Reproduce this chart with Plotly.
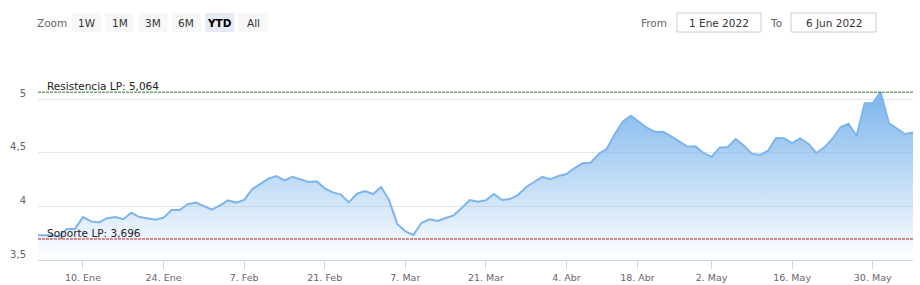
import pandas as pd
import plotly.graph_objects as go

# ---------------- data ----------------
holidays = ["2022-04-15", "2022-04-18"]
dec = [3.73]
jan = [3.73, 3.73, 3.72, 3.79, 3.79, 3.90, 3.86, 3.85, 3.89, 3.90,
       3.88, 3.94, 3.90, 3.885, 3.875, 3.895, 3.965, 3.965, 4.02, 4.035, 4.00]
feb = [3.97, 4.01, 4.055, 4.035, 4.06, 4.16, 4.205, 4.258, 4.283, 4.242,
       4.276, 4.252, 4.227, 4.233, 4.168, 4.130, 4.109, 4.037, 4.118, 4.143]
mar = [4.115, 4.180, 4.056, 3.835, 3.767, 3.733, 3.845, 3.879, 3.863, 3.891,
       3.916, 3.984, 4.059, 4.042, 4.056, 4.115, 4.059, 4.068, 4.106, 4.180,
       4.224, 4.276, 4.252]
apr = [4.283, 4.301, 4.357, 4.401, 4.407, 4.488, 4.537, 4.674, 4.792, 4.845,
       4.786, 4.730, 4.693, 4.696, 4.652, 4.606, 4.556, 4.559, 4.497]
may = [4.460, 4.547, 4.553, 4.627, 4.568, 4.491, 4.478, 4.516, 4.637, 4.634,
       4.590, 4.634, 4.584, 4.497, 4.550, 4.630, 4.736, 4.770, 4.658, 4.960,
       4.963, 5.064]
jun = [4.776, 4.727, 4.674, 4.689]

values = dec + jan + feb + mar + apr + may + jun
dates = pd.bdate_range("2021-12-31", "2022-06-06", freq="C", holidays=holidays)

resistencia = 5.064
soporte = 3.696

# 18 Abr is a market holiday: its tick sits where an ordinal axis interpolates it
tick_dates = ["2022-01-10", "2022-01-24", "2022-02-07", "2022-02-21", "2022-03-07",
              "2022-03-21", "2022-04-04", "2022-04-14 19:12", "2022-05-02", "2022-05-16",
              "2022-05-30"]
tick_text = ["10. Ene", "24. Ene", "7. Feb", "21. Feb", "7. Mar", "21. Mar",
             "4. Abr", "18. Abr", "2. May", "16. May", "30. May"]
y_ticks = [3.5, 4, 4.5, 5]

zoom_buttons = ["1W", "1M", "3M", "6M", "YTD", "All"]
selected_button = "YTD"
from_text = "1 Ene 2022"
to_text = "6 Jun 2022"

# ---------------- layout geometry ----------------
W, H = 920, 285
ML, MR, MT, MB = 38, 7, 50, 25
PW, PH = W - ML - MR, H - MT - MB
FONT = "DejaVu Sans"


def px(x):
    return (x - ML) / PW


def py(y):
    return (H - MB - y) / PH


fig = go.Figure()

fig.add_trace(go.Scatter(
    x=dates, y=values, mode="lines",
    line=dict(color="#7cb5ec", width=2),
    fill="tozeroy",
    fillgradient=dict(type="vertical", start=3.5, stop=resistencia,
                      colorscale=[[0, "rgba(124,181,236,0.0)"],
                                  [1, "rgba(124,181,236,1.0)"]]),
    hoverinfo="skip", showlegend=False,
))

shapes = []
annotations = []


def text(x, y, s, color="#333333", xanchor="center", size=10.5):
    annotations.append(dict(xref="paper", yref="paper", x=px(x), y=py(y), text=s,
                            xanchor=xanchor, yanchor="middle", showarrow=False,
                            font=dict(family=FONT, size=size, color=color)))


# plot lines (support / resistance)
for val, col, label in [(resistencia, "#2a7d2a", "Resistencia LP: 5,064"),
                        (soporte, "#c41e1e", "Soporte LP: 3,696")]:
    shapes.append(dict(type="line", xref="paper", yref="y", x0=0, x1=1, y0=val, y1=val,
                       line=dict(color=col, width=1, dash="3px,1px"), layer="above"))
    annotations.append(dict(xref="paper", yref="y", x=px(46), y=val, text=label,
                            xanchor="left", yanchor="bottom", showarrow=False,
                            font=dict(family=FONT, size=10.5, color="#222222"),
                            borderpad=0, yshift=-1))

# range selector drawn as boxes + text
text(52, 23, "Zoom", color="#666666")
bx = 72.0
for lab in zoom_buttons:
    sel = lab == selected_button
    shapes.append(dict(type="rect", xref="paper", yref="paper",
                       x0=px(bx), x1=px(bx + 29), y0=py(32), y1=py(13),
                       fillcolor="#e6ebf5" if sel else "#f7f7f7", line=dict(width=0),
                       layer="above"))
    text(bx + 14.5, 22.5, "<b>%s</b>" % lab if sel else lab,
         color="#000000" if sel else "#333333")
    bx += 33.3

# From / To inputs
text(669, 22.5, "From", color="#666666", xanchor="right")
text(784, 22.5, "To", color="#666666", xanchor="right")
for x0, x1, txt in [(677, 761, from_text), (791, 876, to_text)]:
    shapes.append(dict(type="rect", xref="paper", yref="paper",
                       x0=px(x0), x1=px(x1), y0=py(32), y1=py(13),
                       fillcolor="#ffffff", line=dict(color="#cccccc", width=1),
                       layer="above"))
    text((x0 + x1) / 2, 22.5, txt)

fig.update_layout(
    width=W, height=H,
    margin=dict(l=ML, r=MR, t=MT, b=MB, pad=0, autoexpand=False),
    paper_bgcolor="white", plot_bgcolor="white",
    separators=",.",
    font=dict(family=FONT, size=10, color="#666666"),
    showlegend=False,
    shapes=shapes, annotations=annotations,
    xaxis=dict(
        type="date",
        range=["2021-12-31 10:00", "2022-06-06"],
        rangebreaks=[dict(bounds=["sat", "mon"]), dict(values=holidays)],
        tickvals=tick_dates, ticktext=tick_text,
        ticks="outside", ticklen=8, tickcolor="#ccd6eb", tickwidth=1,
        showline=True, linecolor="#ccd6eb", linewidth=1,
        showgrid=False, zeroline=False,
        tickfont=dict(family=FONT, size=9.5, color="#666666"),
        ticklabelstandoff=1,
        automargin=False,
        fixedrange=True,
    ),
    yaxis=dict(
        range=[3.5, 5.457],
        tickvals=y_ticks,
        showgrid=True, gridcolor="#e6e6e6", gridwidth=1,
        zeroline=False, showline=False, ticks="",
        tickfont=dict(family=FONT, size=10, color="#666666"),
        ticklabelstandoff=11, ticklabelshift=-6,
        automargin=False,
        fixedrange=True,
    ),
)

fig.write_html("out.html", config={"displayModeBar": False})
